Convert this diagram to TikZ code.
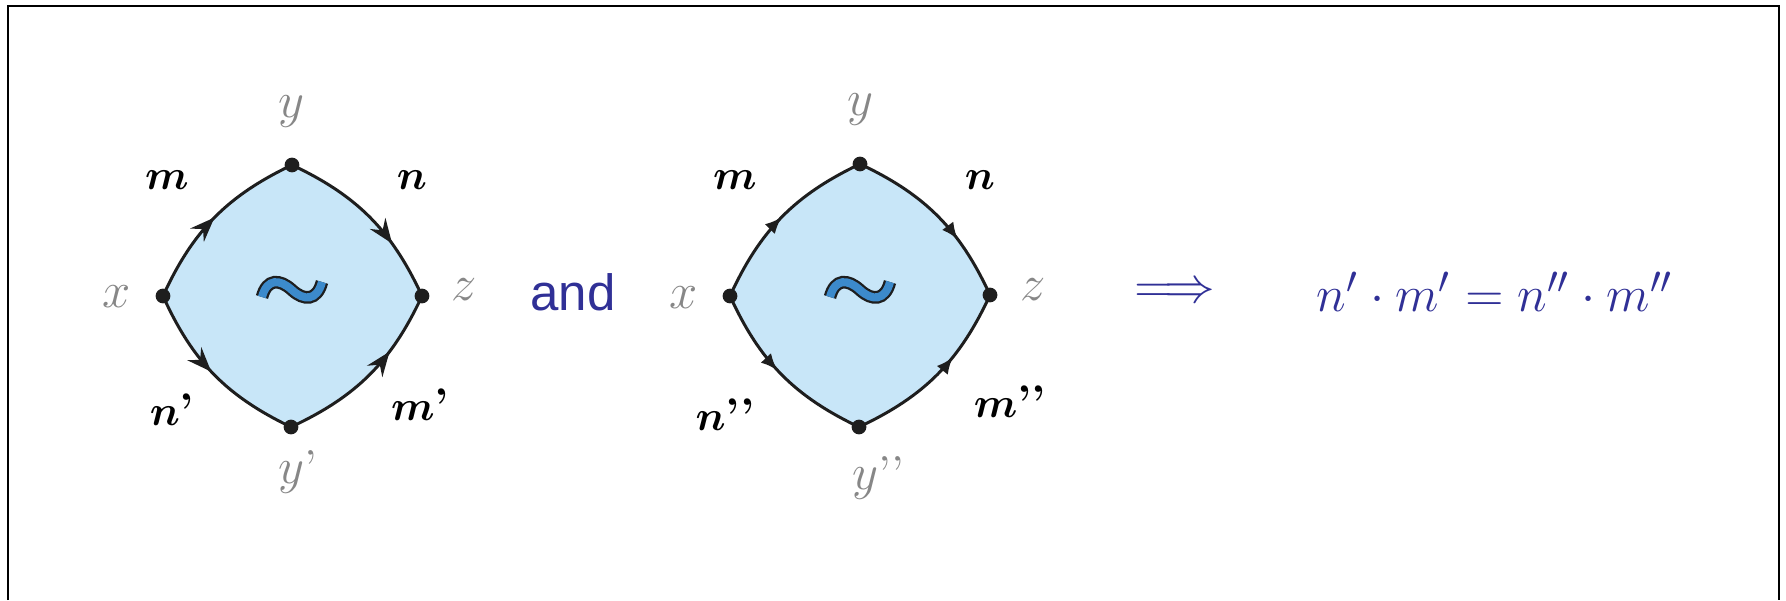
\documentclass[tikz,border=0pt]{standalone}
\usepackage{fontspec}
\usepackage{amsmath}
\usepackage{bm}
\newfontfamily\andfont{Liberation Sans}
\usetikzlibrary{arrows.meta,decorations.markings}
\definecolor{eqblue}{RGB}{48,48,150}
\definecolor{cellfill}{RGB}{200,230,248}
\definecolor{tildeblue}{RGB}{60,138,203}
\definecolor{labgray}{RGB}{135,135,135}
\definecolor{edgeblack}{RGB}{30,30,30}
\tikzset{
  edge/.style={line width=0.85pt, draw=edgeblack},
  arrA/.style={postaction={decorate, decoration={markings, mark=at position #1 with {\arrow{Stealth[length=7pt,width=5.4pt,inset=2.4pt]}}}}},
  arrB/.style={postaction={decorate, decoration={markings, mark=at position #1 with {\arrow{Latex[length=4.8pt,width=4pt]}}}}},
  dotnode/.style={circle, fill=edgeblack, inner sep=0pt, minimum size=4.2pt},
  glab/.style={text=labgray, font=\fontsize{13.5}{15}\selectfont},
  blab/.style={text=black, font=\fontsize{13}{15}\selectfont},
  tildepic/.pic={
    \draw[line width=3.6pt, edgeblack] (-30,7) .. controls (-25,-12) and (-12,-11) .. (0,0) .. controls (12,11) and (25,11) .. (30,-8);
    \draw[line width=2.3pt, tildeblue] (-30,7) .. controls (-25,-12) and (-12,-11) .. (0,0) .. controls (12,11) and (25,11) .. (30,-8);
  }
}
\begin{document}
\begin{tikzpicture}[x=0.01cm, y=-0.01cm]
\useasboundingbox (0,0) rectangle (1786,600);
% frame
\draw[line width=0.6pt, black] (8,600) -- (8,6) -- (1779,6) -- (1779,600);

% ---------- diagram 1 ----------
\coordinate (x1) at (163,296);
\coordinate (y1) at (292,165);
\coordinate (z1) at (422,296);
\coordinate (w1) at (291,427);
\fill[cellfill] (x1) to[bend left=20] (y1) to[bend left=20] (z1) to[bend left=20] (w1) to[bend left=20] (x1) -- cycle;
\draw[edge, arrA=0.5] (x1) to[bend left=20] (y1);
\draw[edge, arrA=0.68] (y1) to[bend left=20] (z1);
\draw[edge, arrA=0.48] (x1) to[bend right=20] (w1);
\draw[edge, arrA=0.66] (w1) to[bend right=20] (z1);
\pic at (292,290) {tildepic};
\node[dotnode] (dx1) at (x1) {};
\node[dotnode] (dy1) at (y1) {};
\node[dotnode] (dz1) at (z1) {};
\node[dotnode] (dw1) at (w1) {};
\node[glab] (lx1) at (117,297) {$x$};
\node[glab] (ly1) at (291,112) {$y$};
\node[glab] (lz1) at (464,290) {$z$};
\node[glab] (lw1) at (298,472) {$y$\textquoteright};
\node[blab] (lm1) at (167,180) {$\bm{m}$};
\node[blab] (ln1) at (412,180) {$\bm{n}$};
\node[blab] (lnp1) at (172,410) {$\bm{n}$\textbf{\textquoteright}};
\node[blab] (lmp1) at (420,405) {$\bm{m}$\textbf{\textquoteright}};

% "and"
\node[text=eqblue, font=\andfont\fontsize{14.5}{17}\selectfont] (and) at (573,292) {and};

% ---------- diagram 2 ----------
\coordinate (x2) at (730,296);
\coordinate (y2) at (860,164);
\coordinate (z2) at (990,295);
\coordinate (w2) at (859,427);
\fill[cellfill] (x2) to[bend left=20] (y2) to[bend left=20] (z2) to[bend left=20] (w2) to[bend left=20] (x2) -- cycle;
\draw[edge, arrB=0.5] (x2) to[bend left=20] (y2);
\draw[edge, arrB=0.66] (y2) to[bend left=20] (z2);
\draw[edge, arrB=0.47] (x2) to[bend right=20] (w2);
\draw[edge, arrB=0.62] (w2) to[bend right=20] (z2);
\pic at (860,290) {tildepic};
\node[dotnode] (dx2) at (x2) {};
\node[dotnode] (dy2) at (y2) {};
\node[dotnode] (dz2) at (z2) {};
\node[dotnode] (dw2) at (w2) {};
\node[glab] (lx2) at (684,298) {$x$};
\node[glab] (ly2) at (860,110) {$y$};
\node[glab] (lz2) at (1033,290) {$z$};
\node[glab] (lw2) at (878,478) {$y$\textquoteright\textquoteright};
\node[blab] (lm2) at (735,180) {$\bm{m}$};
\node[blab] (ln2) at (980,180) {$\bm{n}$};
\node[blab] (lnp2) at (725,415) {$\bm{n}$\textbf{\textquoteright\textquoteright}};
\node[blab] (lmp2) at (1010,402) {$\bm{m}$\textbf{\textquoteright\textquoteright}};

% implication and equation
\node[text=eqblue, font=\fontsize{15.5}{17}\selectfont] (impl) at (1175,293) {$\Longrightarrow$};
\node[text=eqblue, font=\fontsize{15.5}{18}\selectfont] (eq) at (1495,292) {$n' \cdot m' = n'' \cdot m''$};
\end{tikzpicture}
\end{document}
